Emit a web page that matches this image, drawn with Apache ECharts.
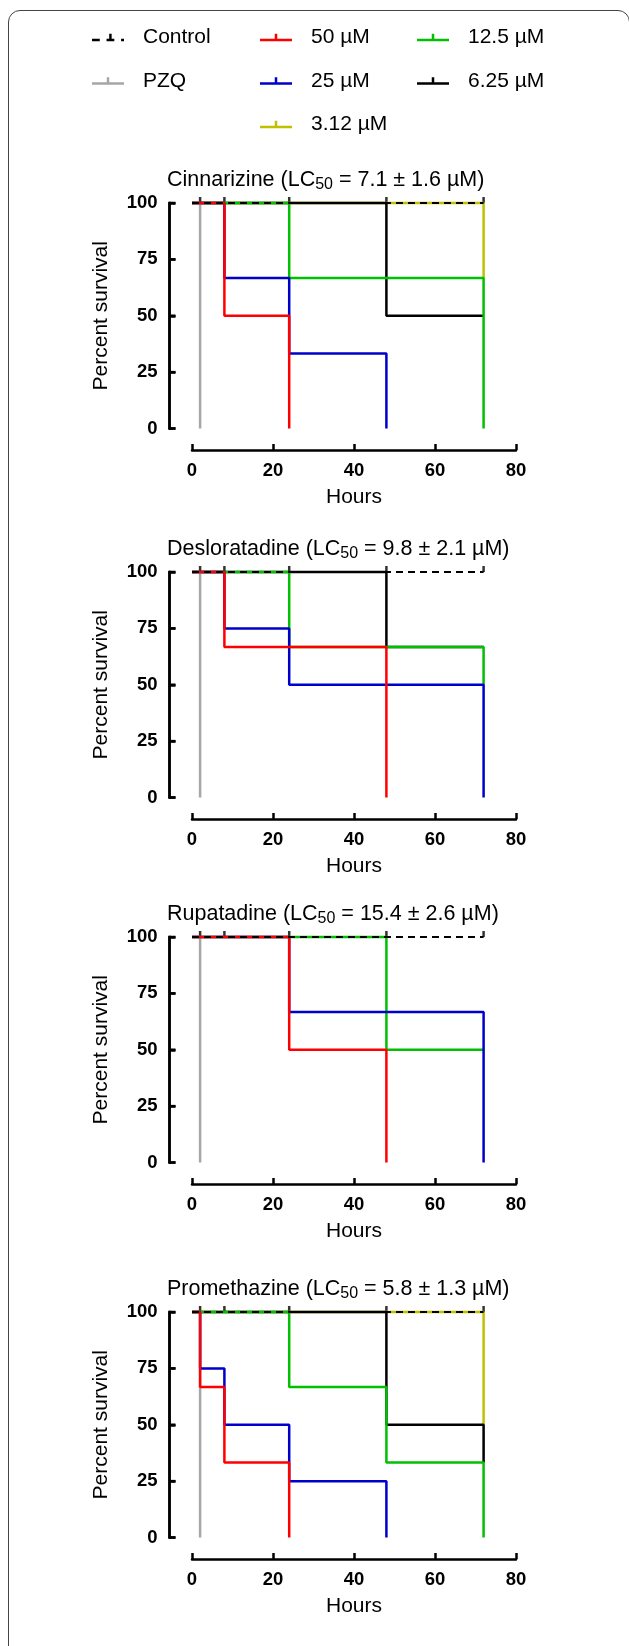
<!DOCTYPE html>
<html>
<head>
<meta charset="utf-8">
<script src="https://cdn.jsdelivr.net/npm/echarts@6/dist/echarts.min.js"></script>
<style>
  html, body { margin: 0; padding: 0; background: #fff; overflow: hidden; }
  #page { position: relative; width: 629px; height: 1646px; overflow: hidden; }
  #frame {
    position: absolute; left: 8px; top: 10px; width: 622px; height: 1700px;
    border: 1.3px solid #444; border-radius: 12px; box-sizing: border-box;
  }
  .panel { position: absolute; left: 0; width: 629px; }
</style>
</head>
<body>
<div id="page">
  <div id="frame"></div>
  <div class="panel" id="legend" style="top:0;height:150px"></div>
</div>
<script>
// groups, in legend order
const groupNames = ['Control', 'PZQ', '50 µM', '25 µM', '12.5 µM', '6.25 µM', '3.12 µM'];

// panels
const drugNames = ['Cinnarizine', 'Desloratadine', 'Rupatadine', 'Promethazine'];
const lc50Text = ['7.1 ± 1.6', '9.8 ± 2.1', '15.4 ± 2.6', '5.8 ± 1.3'];

// Kaplan-Meier change points [hour, percent survival], one entry per group (null = not plotted)
const cinnarizineSurvival = [
  [[0, 100], [72, 100]],
  [[0, 100], [2, 0]],
  [[0, 100], [8, 50], [24, 0]],
  [[0, 100], [8, 66.7], [24, 33.3], [48, 0]],
  [[0, 100], [24, 66.7], [72, 0]],
  [[0, 100], [48, 50], [72, 50]],
  [[0, 100], [72, 66.7]],
];
const desloratadineSurvival = [
  [[0, 100], [72, 100]],
  [[0, 100], [2, 0]],
  [[0, 100], [8, 66.7], [48, 0]],
  [[0, 100], [8, 75], [24, 50], [72, 0]],
  [[0, 100], [24, 66.7], [72, 50]],
  [[0, 100], [48, 66.7], [72, 66.7]],
  null,
];
const rupatadineSurvival = [
  [[0, 100], [72, 100]],
  [[0, 100], [2, 0]],
  [[0, 100], [24, 50], [48, 0]],
  [[0, 100], [24, 66.7], [72, 0]],
  [[0, 100], [48, 50], [72, 50]],
  null,
  null,
];
const promethazineSurvival = [
  [[0, 100], [72, 100]],
  [[0, 100], [2, 0]],
  [[0, 100], [2, 66.7], [8, 33.3], [24, 0]],
  [[0, 100], [2, 75], [8, 50], [24, 25], [48, 0]],
  [[0, 100], [24, 66.7], [48, 33.3], [72, 0]],
  [[0, 100], [48, 50], [72, 33.3]],
  [[0, 100], [72, 50]],
];
const panelSurvival = [cinnarizineSurvival, desloratadineSurvival, rupatadineSurvival, promethazineSurvival];

// censor ticks on the control line
const censorHours = [2, 8, 24, 48, 72];

// axis ticks
const hourTicks = [0, 20, 40, 60, 80];
const percentTicks = [0, 25, 50, 75, 100];

// styles
const groupColors = ['#000000', '#a6a6a6', '#ff0000', '#0000cc', '#00c000', '#000000', '#c0c000'];
// Prism puts the first data sets in front: draw back to front
const drawOrder = [6, 5, 4, 1, 3, 2, 0];
const panelTop = [203, 572, 937, 1312];
const gridTop = 70;
const xOffset = 21.5;
const yOffset = 22.5;
const font = '"Liberation Sans", Arial, sans-serif';

const page = document.getElementById('page');

const lineStyleFor = g => ({
  color: groupColors[g],
  width: g === 0 ? 2 : 2.5,
  type: g === 0 ? [7, 5] : 'solid',
});

// fresh objects per axis
const makeAxis = (ticks, position, offset, labelMargin, name, nameGap) => ({
  type: 'value',
  position,
  min: ticks[0],
  max: ticks[ticks.length - 1],
  interval: ticks[1] - ticks[0],
  offset,
  z: 10,
  axisLine: { show: true, onZero: false, symbol: 'none', lineStyle: { color: '#000', width: 2.5 } },
  axisTick: { show: true, inside: true, length: 6, lineStyle: { color: '#000', width: 2.5 } },
  splitLine: { show: false },
  axisLabel: { color: '#000', fontSize: 18.5, fontWeight: 'bold', fontFamily: font, margin: labelMargin },
  name,
  nameLocation: 'middle',
  nameGap,
  nameTextStyle: { color: '#000', fontSize: 21, fontFamily: font },
});

// the y axis line does not show up in this build, so trace it again at the
// pixel positions the chart's own y scale gives for the tick values
const yAxisTrace = chart => {
  const x = chart.convertToPixel({ xAxisIndex: 0 }, hourTicks[0]) - yOffset;
  const ys = percentTicks.map(v => chart.convertToPixel({ yAxisIndex: 0 }, v));
  const stroke = { stroke: '#000', lineWidth: 2.5 };
  const elements = [{
    type: 'line',
    z: 100,
    silent: true,
    shape: { x1: x, y1: Math.min(...ys), x2: x, y2: Math.max(...ys) },
    style: { ...stroke, lineCap: 'square' },
  }];
  ys.forEach(y => elements.push({
    type: 'line',
    z: 100,
    silent: true,
    shape: { x1: x, y1: y, x2: x + 6, y2: y },
    style: stroke,
  }));
  return elements;
};

// one chart per panel
drugNames.forEach((drug, i) => {
  const el = document.createElement('div');
  el.className = 'panel';
  el.style.top = (panelTop[i] - gridTop) + 'px';
  el.style.height = '380px';
  page.appendChild(el);
  const chart = echarts.init(el);

  const series = [];
  const curves = panelSurvival[i];
  drawOrder.forEach(g => {
    if (!curves[g]) return;
    series.push({
      type: 'line',
      name: groupNames[g],
      step: 'end',
      data: curves[g],
      symbol: 'none',
      showSymbol: false,
      clip: false,
      silent: true,
      itemStyle: { color: groupColors[g] },
      lineStyle: lineStyleFor(g),
    });
  });
  series.push({
    type: 'scatter',
    data: censorHours.map(h => [h, 100]),
    symbol: 'rect',
    symbolSize: [2.5, 6],
    symbolOffset: [0, -3],
    clip: false,
    silent: true,
    itemStyle: { color: '#000' },
  });

  chart.setOption({
    animation: false,
    title: {
      left: 167,
      top: gridTop - 36,
      padding: 0,
      text: `{n|${drug} (LC}{s|50}{n| = ${lc50Text[i]} µM)}`,
      textStyle: {
        fontSize: 21.5,
        fontWeight: 'normal',
        color: '#000',
        fontFamily: font,
        rich: {
          n: { fontSize: 21.5, color: '#000', fontFamily: font },
          s: { fontSize: 16, color: '#000', fontFamily: font, padding: [10, 0, 0, 0] },
        },
      },
    },
    grid: { left: 192, width: 324, top: gridTop, height: 226 },
    xAxis: makeAxis(hourTicks, 'bottom', xOffset, 11, 'Hours', 37),
    yAxis: makeAxis(percentTicks, 'left', yOffset, 12, 'Percent survival', 58),
    series,
  });

  chart.setOption({ graphic: yAxisTrace(chart) });
});

// legend: its own chart, with hidden stand-in series that only carry name and colour
const lineIcon = 'path://M0,5H32V7.5H0Z M14.75,0H17.25V5H14.75Z';
const dashIcon = 'path://M0,5H8V7.5H0Z M15,5H23V7.5H15Z M17.75,0H20.25V5H17.75Z M30,5H33V7.5H30Z';

const legendColumn = (left, names) => ({
  orient: 'vertical',
  left,
  top: 24,
  padding: 0,
  itemWidth: 32,
  itemHeight: 7.5,
  itemGap: 16.5,
  selectedMode: false,
  itemStyle: { borderWidth: 0 },
  textStyle: { fontSize: 21, lineHeight: 22, color: '#000', fontFamily: font, padding: [0, 0, 5, 14] },
  data: names.map(name => ({ name, icon: name === 'Control' ? dashIcon : lineIcon })),
});

const legendChart = echarts.init(document.getElementById('legend'));
legendChart.setOption({
  animation: false,
  legend: [
    legendColumn(92, ['Control', 'PZQ']),
    legendColumn(260, ['50 µM', '25 µM', '3.12 µM']),
    legendColumn(417, ['12.5 µM', '6.25 µM']),
  ],
  grid: { left: -1000, top: -1000, width: 10, height: 10 },
  xAxis: { type: 'value', show: false },
  yAxis: { type: 'value', show: false },
  series: groupNames.map((name, g) => ({
    type: 'line',
    name,
    data: [],
    symbol: 'none',
    itemStyle: { color: groupColors[g] },
    lineStyle: lineStyleFor(g),
  })),
});
</script>
</body>
</html>
